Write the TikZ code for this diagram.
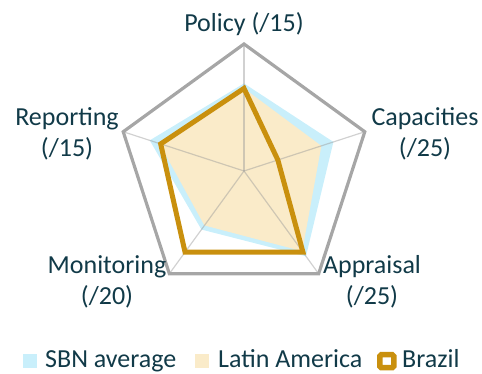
\documentclass[tikz,border=0pt]{standalone}
\usepackage{fontspec}
\setmainfont{Carlito}
\usepackage{xcolor}
\usepackage{tikz}
\usetikzlibrary{positioning, calc}
\definecolor{sbnblue}{HTML}{C9EFFB}
\definecolor{latambeige}{HTML}{FAEBC9}
\definecolor{brazilgold}{HTML}{C9900E}
\definecolor{gridgray}{HTML}{A6A6A6}
\definecolor{spokegray}{HTML}{9A9A9A}
\definecolor{labeltext}{HTML}{113A48}
\tikzstyle{axislabel} = [text=labeltext, align=center, inner sep=0pt, anchor=base, font=\fontsize{26}{31}\selectfont]
\tikzstyle{legendtext} = [text=labeltext, inner sep=0pt, anchor=base west, font=\fontsize{26}{31}\selectfont]
\tikzstyle{legendkey} = [rectangle, inner sep=0pt, minimum size=14pt]
\tikzstyle{outerring} = [draw=gridgray, line width=3.2pt, line join=miter]
\tikzstyle{spoke} = [draw=spokegray, line width=1.2pt, opacity=0.45]
\tikzstyle{brazilline} = [draw=brazilgold, line width=5pt, line join=miter]

\begin{document}
\begin{tikzpicture}[x=1pt, y=1pt]
\useasboundingbox (0,0) rectangle (482,374);

\begin{scope}[shift={(244,203)}]
% Axis ends
\coordinate (center) at (0,0);
\coordinate (vpolicy) at (90:127);
\coordinate (vcap) at (18:127);
\coordinate (vapp) at (-54:127);
\coordinate (vmon) at (-126:127);
\coordinate (vrep) at (162:127);

% Series areas
\fill [sbnblue] (90:87.6) -- (18:94.0) -- (-54:105.4) -- (-126:72.4) -- (162:99.1) -- cycle;
\fill [latambeige] (90:82.6) -- (18:81.3) -- (-54:99.1) -- (-126:67.3) -- (162:88.9) -- cycle;

% Spokes and outer ring
\draw [spoke] (center) -- (vpolicy);
\draw [spoke] (center) -- (vcap);
\draw [spoke] (center) -- (vapp);
\draw [spoke] (center) -- (vmon);
\draw [spoke] (center) -- (vrep);
\draw [outerring] (vpolicy) -- (vcap) -- (vapp) -- (vmon) -- (vrep) -- cycle;

% Brazil
\draw [brazilline] (90:82.6) -- (18:35.6) -- (-54:100.3) -- (-126:100.3) -- (162:87.6) -- cycle;
\end{scope}

% Axis labels (base = last line)
\node (policylbl) [axislabel] at (244,342) {Policy (/15)};
\node (caplbl) [axislabel] at (425,217) {Capacities\\(/25)};
\node (applbl) [axislabel] at (372,69) {Appraisal\\(/25)};
\node (monlbl) [axislabel] at (107,69) {Monitoring\\(/20)};
\node (replbl) [axislabel] at (67,217) {Reporting\\(/15)};

% Legend
\node (sbnkey) [legendkey, fill=sbnblue] at (30,12.5) {};
\node (sbntext) [legendtext] at (45,6) {SBN average};
\node (latamkey) [legendkey, fill=latambeige] at (201.5,12.5) {};
\node (latamtext) [legendtext] at (218,6) {Latin America};
\draw [draw=brazilgold, line width=5.5pt, rounded corners=1.5pt] (379.75,6.25) rectangle (393.75,19.25);
\node (braziltext) [legendtext] at (402,6) {Brazil};

\end{tikzpicture}
\end{document}
